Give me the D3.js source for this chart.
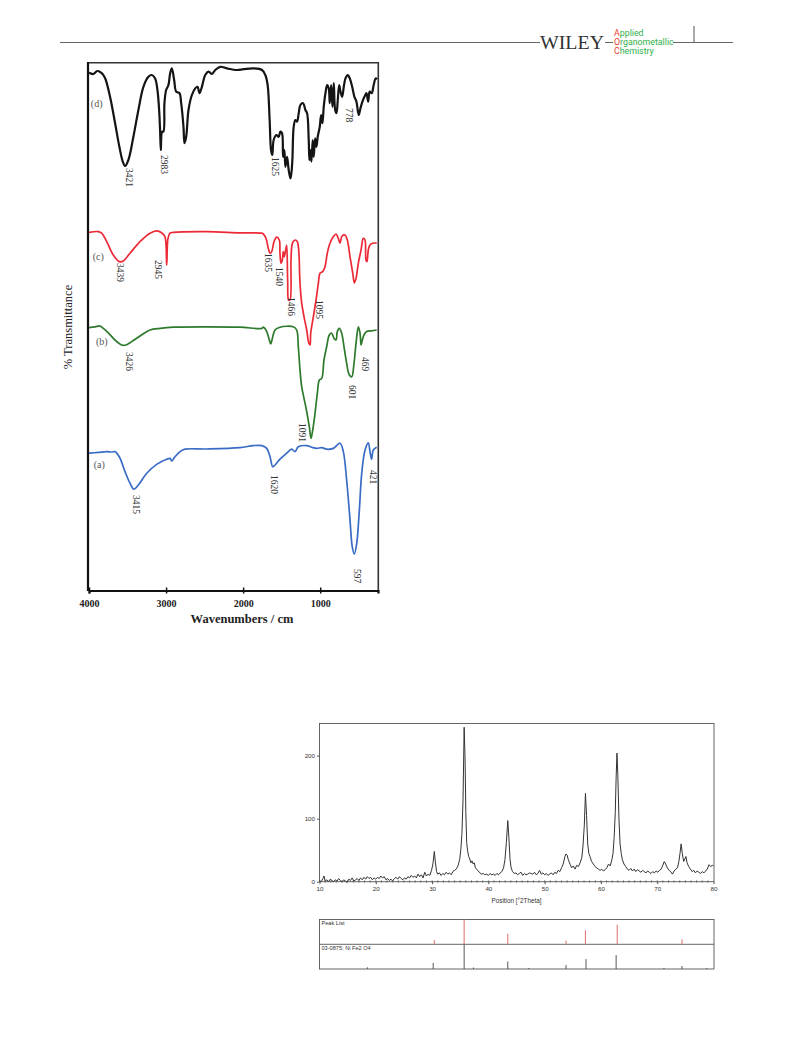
<!DOCTYPE html>
<html><head><meta charset="utf-8">
<script src="https://cdn.jsdelivr.net/npm/d3@7"></script>
<style>body{margin:0;background:#fff}svg{display:block}</style>
</head><body>
<svg id="page" width="793" height="1043"></svg>
<script>
// ---------- FTIR data: [wavenumber cm-1, stacked %T units] ----------
const ftirD = [[4000,129.3],[3944,129],[3892,129.75],[3835,129.2],[3792,128],[3727,123.3],[3662,116.75],[3606,110.8],[3562,107.1],[3532,106],[3489,107.5],[3424,113.3],[3359,120],[3294,125.8],[3229,128.3],[3185,128.75],[3142,127.9],[3112,125],[3090,120],[3077,114.6],[3068,110],[3051,114.6],[3034,114.6],[3021,121.7],[2999,125],[2969,126.25],[2947,129.2],[2925,130.4],[2895,127.5],[2869,124.6],[2826,124.2],[2804,121.7],[2774,115.8],[2761,111.7],[2739,113.3],[2709,120],[2665,123.75],[2622,125.4],[2592,125.8],[2566,124.2],[2535,125.8],[2492,128.75],[2449,129.6],[2405,129],[2362,130],[2297,130.8],[2210,130.4],[2080,130],[1994,130.2],[1864,130.4],[1755,130],[1712,128.75],[1682,126.25],[1656,117.5],[1638,110],[1621,108.75],[1604,112.5],[1569,113.75],[1539,113.3],[1517,114.6],[1495,114.2],[1482,108.3],[1465,110],[1452,105.8],[1430,108.3],[1409,105],[1387,102.9],[1374,104.2],[1361,107.5],[1344,115.8],[1322,117.5],[1300,117.1],[1279,119.2],[1257,121.25],[1222,121.7],[1192,120],[1170,119.2],[1149,112.5],[1140,107.5],[1127,110],[1114,107.1],[1097,112.5],[1084,108.3],[1066,112.9],[1049,110.8],[1032,113.3],[1006,115.8],[988,118.75],[971,116.7],[954,120.8],[932,124.2],[910,126.25],[889,125.4],[876,121.7],[858,126.25],[841,120.8],[824,126.7],[806,120],[789,119.2],[772,122.5],[754,126.25],[737,124.6],[715,123.3],[694,125.8],[672,127.9],[642,128.75],[616,127.9],[585,125.8],[556,123.3],[530,122.1],[500,118.75],[478,120.4],[452,122.1],[426,123.3],[400,124.2],[378,122.1],[358,124.6],[332,124.2],[306,126.25],[280,127.9],[262,127.7]];
const ftirC = [[4000,89.4],[3879,89.6],[3835,89.2],[3770,87.1],[3685,83.75],[3607,82.1],[3555,82.25],[3468,84.2],[3338,87.1],[3208,89.2],[3122,89.8],[3057,89.3],[3014,88.3],[2992,81.25],[2975,87.9],[2949,89.2],[2906,89.4],[2473,89.6],[2041,89.3],[1759,89.2],[1738,89],[1703,87.9],[1673,85.4],[1651,84.2],[1629,84.6],[1599,87.1],[1564,88.2],[1531,87.5],[1522,84.2],[1509,81.7],[1492,82.5],[1479,84.6],[1466,83.3],[1448,85],[1435,86.25],[1422,77.1],[1410,72.5],[1392,72.5],[1379,82.5],[1366,86.25],[1349,87.1],[1323,87.5],[1297,87.1],[1279,85],[1262,76.7],[1240,71.7],[1210,68.3],[1175,65],[1149,61.8],[1132,61.25],[1123,64.2],[1089,68.3],[1054,72.5],[1024,76.7],[1002,79.2],[967,79.6],[938,80.8],[908,84.2],[873,86.7],[830,88.3],[795,89],[765,87.9],[743,86.7],[717,88.5],[678,88.75],[648,87.5],[613,83.3],[578,79.2],[557,76.8],[535,77.9],[505,81.7],[470,85],[441,87.9],[419,87.5],[406,82.5],[393,82.1],[376,85],[354,86.25],[319,86.7],[267,86.7]];
const ftirB = [[4000,65.6],[3922,65.8],[3857,66],[3814,65.4],[3750,64.3],[3663,62.5],[3576,61.25],[3520,61.25],[3446,62.1],[3338,63.5],[3208,65],[3078,65.4],[2906,65.7],[2473,65.8],[2041,65.7],[1759,65.4],[1738,65.7],[1694,64.6],[1660,62.5],[1642,61.5],[1621,62.9],[1586,65],[1522,65.7],[1349,65.8],[1305,65],[1284,60.8],[1262,55],[1240,50.8],[1210,47.9],[1175,44.6],[1141,40.8],[1119,37.9],[1097,40],[1067,44.2],[1037,49.2],[1011,52.5],[980,52.9],[951,57.5],[916,60.8],[882,63.75],[851,64.2],[821,62.9],[795,62.5],[778,64.6],[752,65.4],[721,64.2],[691,60.8],[657,56.7],[622,53.75],[591,53.3],[561,56.7],[535,61.7],[505,65.8],[483,64.2],[470,61.25],[454,62.5],[432,63.75],[397,64.6],[332,64.8],[267,65]];
const ftirA = [[4000,34.2],[3879,34.4],[3770,34.6],[3705,34.5],[3663,34.6],[3607,33.3],[3533,29.6],[3468,26.7],[3416,25.2],[3360,26.25],[3251,29.2],[3122,31.4],[2992,32.7],[2949,32.9],[2928,32.3],[2884,33.3],[2819,34.6],[2754,35.2],[2473,35.25],[2041,35.6],[1868,36.1],[1759,36.1],[1694,35.4],[1651,33.3],[1616,30.8],[1586,31.25],[1522,32.7],[1435,34.2],[1370,35.2],[1327,34.6],[1284,35.8],[1175,36.1],[1110,35.7],[1046,35.4],[981,35.6],[916,35.2],[830,35.4],[743,36.7],[700,34.6],[657,27.5],[613,17.5],[584,10.8],[557,9],[526,11.7],[492,20],[461,29.2],[418,35],[376,36.8],[354,34.6],[333,32.7],[311,35],[267,35.7]];
const ftirSeriesNames = ["(d)","(c)","(b)","(a)"];
const ftirColors = ["#141414","#ec2a37","#2d7a2d","#3a6cc6"];
const ftirNameAt = [[3900,121.7],[3879,83.3],[3835,62.1],[3866,31.5]];
// peak annotations: [label, wavenumber, level]
const ftirPeakLabels = [
  ["3421",3476,105.5],["2983",3025,108.75],["1625",1582,108.25],["778",616,120.5],
  ["3439",3597,81.75],["2945",3103,82.5],["1635",1673,84.25],["1540",1530,80.75],["1466",1374,73.25],["1095",1010,72.5],
  ["3426",3480,59.5],["1091",1235,41.75],["601",585,51.25],["469",412,58.25],
  ["3415",3389,23.75],["1620",1591,28.75],["597",512,5.25],["421",317,30]
];
const ftirTicks = [4000,3000,2000,1000];

// ---------- XRD data: [2theta, counts] ----------
const xrdPattern = [[10.0,2],[10.3,0],[10.6,5],[10.8,9],[11.0,1],[11.3,3],[11.6,0],[11.9,4],[12.2,2],[12.5,0],[12.8,3],[13.1,1],[13.4,5],[13.7,2],[14.0,0],[14.3,3],[14.6,1],[14.9,-1],[15.2,4],[15.5,2],[15.8,6],[16.1,1],[16.4,3],[16.7,5],[17.0,2],[17.3,6],[17.6,3],[17.9,7],[18.2,4],[18.5,8],[18.8,5],[19.1,7],[19.4,3],[19.7,6],[20.0,4],[20.3,7],[20.6,5],[20.9,9],[21.2,6],[21.5,8],[21.8,3],[22.1,5],[22.4,2],[22.7,4],[23.0,1],[23.3,5],[23.6,7],[23.9,4],[24.2,8],[24.5,5],[24.8,3],[25.1,6],[25.4,4],[25.7,8],[26.0,6],[26.3,10],[26.6,7],[26.9,9],[27.2,6],[27.5,12],[27.8,8],[28.1,11],[28.4,6],[28.7,15],[29.0,9],[29.3,12],[29.6,10],[29.9,18],[30.15,28],[30.4,48],[30.6,30],[30.8,16],[31.0,12],[31.3,14],[31.6,10],[31.9,13],[32.2,11],[32.5,15],[32.8,12],[33.1,14],[33.4,11],[33.7,16],[34.0,18],[34.3,20],[34.6,25],[34.9,35],[35.1,50],[35.3,75],[35.5,130],[35.7,245],[35.85,200],[36.0,110],[36.15,62],[36.3,50],[36.5,40],[36.7,36],[36.9,30],[37.1,33],[37.3,28],[37.5,30],[37.7,22],[37.9,20],[38.2,17],[38.5,14],[38.8,12],[39.1,13],[39.4,11],[39.7,12],[40.0,10],[40.3,13],[40.6,11],[40.9,12],[41.2,10],[41.5,13],[41.8,11],[42.1,14],[42.4,16],[42.7,22],[42.95,35],[43.2,62],[43.45,97],[43.65,70],[43.85,35],[44.05,22],[44.3,16],[44.6,13],[44.9,14],[45.2,11],[45.5,13],[45.8,15],[46.1,10],[46.4,13],[46.7,11],[47.0,12],[47.3,14],[47.6,13],[47.9,12],[48.2,15],[48.5,11],[48.8,13],[49.1,18],[49.4,12],[49.7,14],[50.0,11],[50.3,13],[50.6,10],[50.9,12],[51.2,14],[51.5,11],[51.8,15],[52.1,13],[52.4,18],[52.7,16],[53.0,22],[53.3,28],[53.6,40],[53.8,44],[54.0,42],[54.2,35],[54.5,28],[54.8,22],[55.1,25],[55.4,20],[55.7,26],[56.0,24],[56.3,30],[56.6,38],[56.8,55],[57.05,90],[57.25,140],[57.45,105],[57.65,60],[57.85,45],[58.05,40],[58.35,32],[58.65,28],[58.95,24],[59.25,22],[59.55,20],[59.85,18],[60.15,20],[60.45,17],[60.75,19],[61.05,22],[61.35,28],[61.65,25],[61.95,35],[62.15,45],[62.35,70],[62.55,110],[62.7,165],[62.85,204],[63.0,170],[63.2,100],[63.4,60],[63.6,45],[63.8,35],[64.1,28],[64.4,24],[64.7,20],[65.0,18],[65.3,21],[65.6,17],[65.9,20],[66.2,16],[66.5,19],[66.8,17],[67.1,15],[67.4,18],[67.7,16],[68.0,14],[68.3,17],[68.6,15],[68.9,13],[69.2,16],[69.5,14],[69.8,17],[70.1,15],[70.4,18],[70.7,20],[71.0,26],[71.25,32],[71.5,28],[71.8,22],[72.1,18],[72.4,16],[72.7,12],[73.0,17],[73.3,20],[73.6,22],[73.85,32],[74.05,45],[74.25,60],[74.45,45],[74.7,32],[74.9,36],[75.1,40],[75.3,30],[75.6,24],[75.9,20],[76.2,16],[76.5,18],[76.8,14],[77.1,17],[77.4,15],[77.7,13],[78.0,16],[78.3,14],[78.6,17],[78.9,20],[79.2,27],[79.5,24],[79.8,26],[80.0,25]];
const xrdYTicks = [0,100,200];
const xrdXTicks = [10,20,30,40,50,60,70,80];
const peakListSticks = [[30.4,17],[35.7,100],[43.45,43],[53.8,14],[57.25,57],[62.9,79],[74.4,20]];
const refSticks = [[18.5,7],[30.2,25],[35.7,100],[37.35,6],[43.45,30],[47.2,4],[53.8,16],[57.35,40],[62.7,56],[71.2,4],[74.4,12],[78.8,4]];
const refName = "03-0875; Ni Fe2 O4";

const svg = d3.select("#page");

// ---------- header ----------
const hdr = svg.append("g");
hdr.append("line").attr("x1",60).attr("x2",540).attr("y1",42.5).attr("y2",42.5).attr("stroke","#666").attr("stroke-width",1);
hdr.append("line").attr("x1",605).attr("x2",613).attr("y1",42.5).attr("y2",42.5).attr("stroke","#666").attr("stroke-width",1);
hdr.append("line").attr("x1",673).attr("x2",733).attr("y1",42.5).attr("y2",42.5).attr("stroke","#666").attr("stroke-width",1);
hdr.append("line").attr("x1",694).attr("x2",694).attr("y1",26).attr("y2",42).attr("stroke","#555").attr("stroke-width",1);
hdr.append("text").attr("x",540).attr("y",48.5).attr("font-family","Liberation Serif").attr("font-size",18.5)
  .attr("textLength",64).attr("lengthAdjust","spacingAndGlyphs").attr("fill","#333").text("WILEY");
const logoLines = [["A","pplied",33],["O","rganometallic",42],["C","hemistry",51]];
logoLines.forEach(l=>{
  const t = hdr.append("text").attr("x",614).attr("y",l[2]+3).attr("font-family","Roboto").attr("font-size",8.8).attr("fill","#2fb14a");
  t.append("tspan").attr("fill","#e53a2f").text(l[0]);
  t.append("tspan").text(l[1]);
});

// ---------- FTIR ----------
const fx = d3.scaleLinear().domain([4000,250]).range([89,378]);
const fy = d3.scaleLinear().domain([0,132]).range([590,62]);
const ft = svg.append("g");
ft.append("line").attr("x1",88).attr("x2",378.5).attr("y1",62.8).attr("y2",62.8).attr("stroke","#333").attr("stroke-width",1.4);
ft.append("line").attr("x1",378.3).attr("x2",378.3).attr("y1",62).attr("y2",591).attr("stroke","#333").attr("stroke-width",1.6);
ft.append("line").attr("x1",88).attr("x2",88).attr("y1",62).attr("y2",591).attr("stroke","#111").attr("stroke-width",2.2);
const fAxis = ft.append("g").attr("transform","translate(0,590.5)")
  .call(d3.axisBottom(fx).tickValues(ftirTicks).tickSize(3).tickPadding(6).tickFormat(d3.format("d")));
fAxis.select(".domain").attr("stroke","#111").attr("stroke-width",2.2);
fAxis.selectAll(".tick line").attr("stroke","#111").attr("stroke-width",1.5).attr("y1",-3);
fAxis.selectAll(".tick text").attr("font-family","Liberation Serif").attr("font-weight","bold").attr("font-size",10).attr("fill","#222");
ft.append("text").attr("x",242).attr("y",623).attr("text-anchor","middle").attr("font-family","Liberation Serif").attr("font-weight","bold").attr("font-size",12.5).attr("fill","#222").text("Wavenumbers / cm");
ft.append("text").attr("transform","translate(72,327) rotate(-90)").attr("text-anchor","middle").attr("font-family","Liberation Serif").attr("font-size",12.5).attr("fill","#222").text("% Transmittance");

const series = [ftirD, ftirC, ftirB, ftirA];
series.forEach((s,i)=>{
  ft.append("path").datum(s.slice().sort((a,b)=>b[0]-a[0])).attr("d", d3.line().x(d=>fx(d[0])).y(d=>fy(d[1])).curve(d3.curveCatmullRom.alpha(0.5)))
    .attr("fill","none").attr("stroke",ftirColors[i]).attr("stroke-width", i===0?2.2:1.7).attr("stroke-linejoin","round");
  ft.append("text").attr("x",fx(ftirNameAt[i][0])).attr("y",fy(ftirNameAt[i][1])).attr("dy","0.35em").attr("text-anchor","middle")
    .attr("font-family","Liberation Serif").attr("font-size",10).attr("fill","#555").text(ftirSeriesNames[i]);
});
ftirPeakLabels.forEach(p=>{
  ft.append("text").attr("transform",`translate(${fx(p[1])},${fy(p[2])}) rotate(90)`).attr("dy","0.35em")
    .attr("font-family","Liberation Serif").attr("font-size",9.5).attr("fill","#333").text(p[0]);
});

// ---------- XRD ----------
const xx = d3.scaleLinear().domain([10,80]).range([319.5,713.5]);
const xy = d3.scaleLinear().domain([0,251]).range([881.7,723.5]);
const xr = svg.append("g").attr("font-family","Liberation Sans");
xr.append("rect").attr("x",319.5).attr("y",723.5).attr("width",394.5).attr("height",158.2).attr("fill","none").attr("stroke","#555").attr("stroke-width",0.9);
xr.append("path").datum(xrdPattern).attr("d", d3.line().x(d=>xx(d[0])).y(d=>xy(d[1])))
  .attr("fill","none").attr("stroke","#333").attr("stroke-width",1);
xr.append("g").selectAll("line").data(d3.range(11,80)).join("line")
  .attr("x1",d=>xx(d)).attr("x2",d=>xx(d)).attr("y1",881.7-1.6).attr("y2",881.7+1.2).attr("stroke","#555").attr("stroke-width",0.6);
const xa = xr.append("g").attr("transform","translate(0,881.7)").call(d3.axisBottom(xx).tickValues(xrdXTicks).tickSize(2.5).tickPadding(2));
xa.select(".domain").remove();
xa.selectAll(".tick line").attr("stroke","#555");
xa.selectAll(".tick text").attr("font-family","Liberation Sans").attr("font-size",6.2).attr("fill","#333");
const ya = xr.append("g").attr("transform","translate(319.5,0)").call(d3.axisLeft(xy).tickValues(xrdYTicks).tickSize(2.5).tickPadding(2));
ya.select(".domain").remove();
ya.selectAll(".tick line").attr("stroke","#555");
ya.selectAll(".tick text").attr("font-family","Liberation Sans").attr("font-size",6.2).attr("fill","#333");
xr.append("text").attr("x",516.5).attr("y",903).attr("text-anchor","middle").attr("font-size",6.3).attr("fill","#333").text("Position [°2Theta]");

const topY = d3.scaleLinear().domain([0,100]).range([944.3,919.5]);
const botY = d3.scaleLinear().domain([0,100]).range([969,944.3]);
xr.append("rect").attr("x",319.5).attr("y",919.5).attr("width",394.5).attr("height",49.5).attr("fill","none").attr("stroke","#555").attr("stroke-width",0.9);
xr.append("line").attr("x1",319.5).attr("x2",714).attr("y1",944.3).attr("y2",944.3).attr("stroke","#555").attr("stroke-width",0.9);
xr.append("text").attr("x",321.5).attr("y",924.5).attr("font-size",5.6).attr("fill","#333").text("Peak List");
xr.append("text").attr("x",321.5).attr("y",949.5).attr("font-size",5.6).attr("fill","#333").text(refName);
xr.append("g").selectAll("line").data(peakListSticks).join("line")
  .attr("x1",d=>xx(d[0])).attr("x2",d=>xx(d[0])).attr("y1",topY(0)).attr("y2",d=>topY(d[1])).attr("stroke","#e07a7a").attr("stroke-width",1.1);
xr.append("g").selectAll("line").data(refSticks).join("line")
  .attr("x1",d=>xx(d[0])).attr("x2",d=>xx(d[0])).attr("y1",botY(0)).attr("y2",d=>botY(d[1])).attr("stroke","#444").attr("stroke-width",0.9);
</script>
</body></html>
